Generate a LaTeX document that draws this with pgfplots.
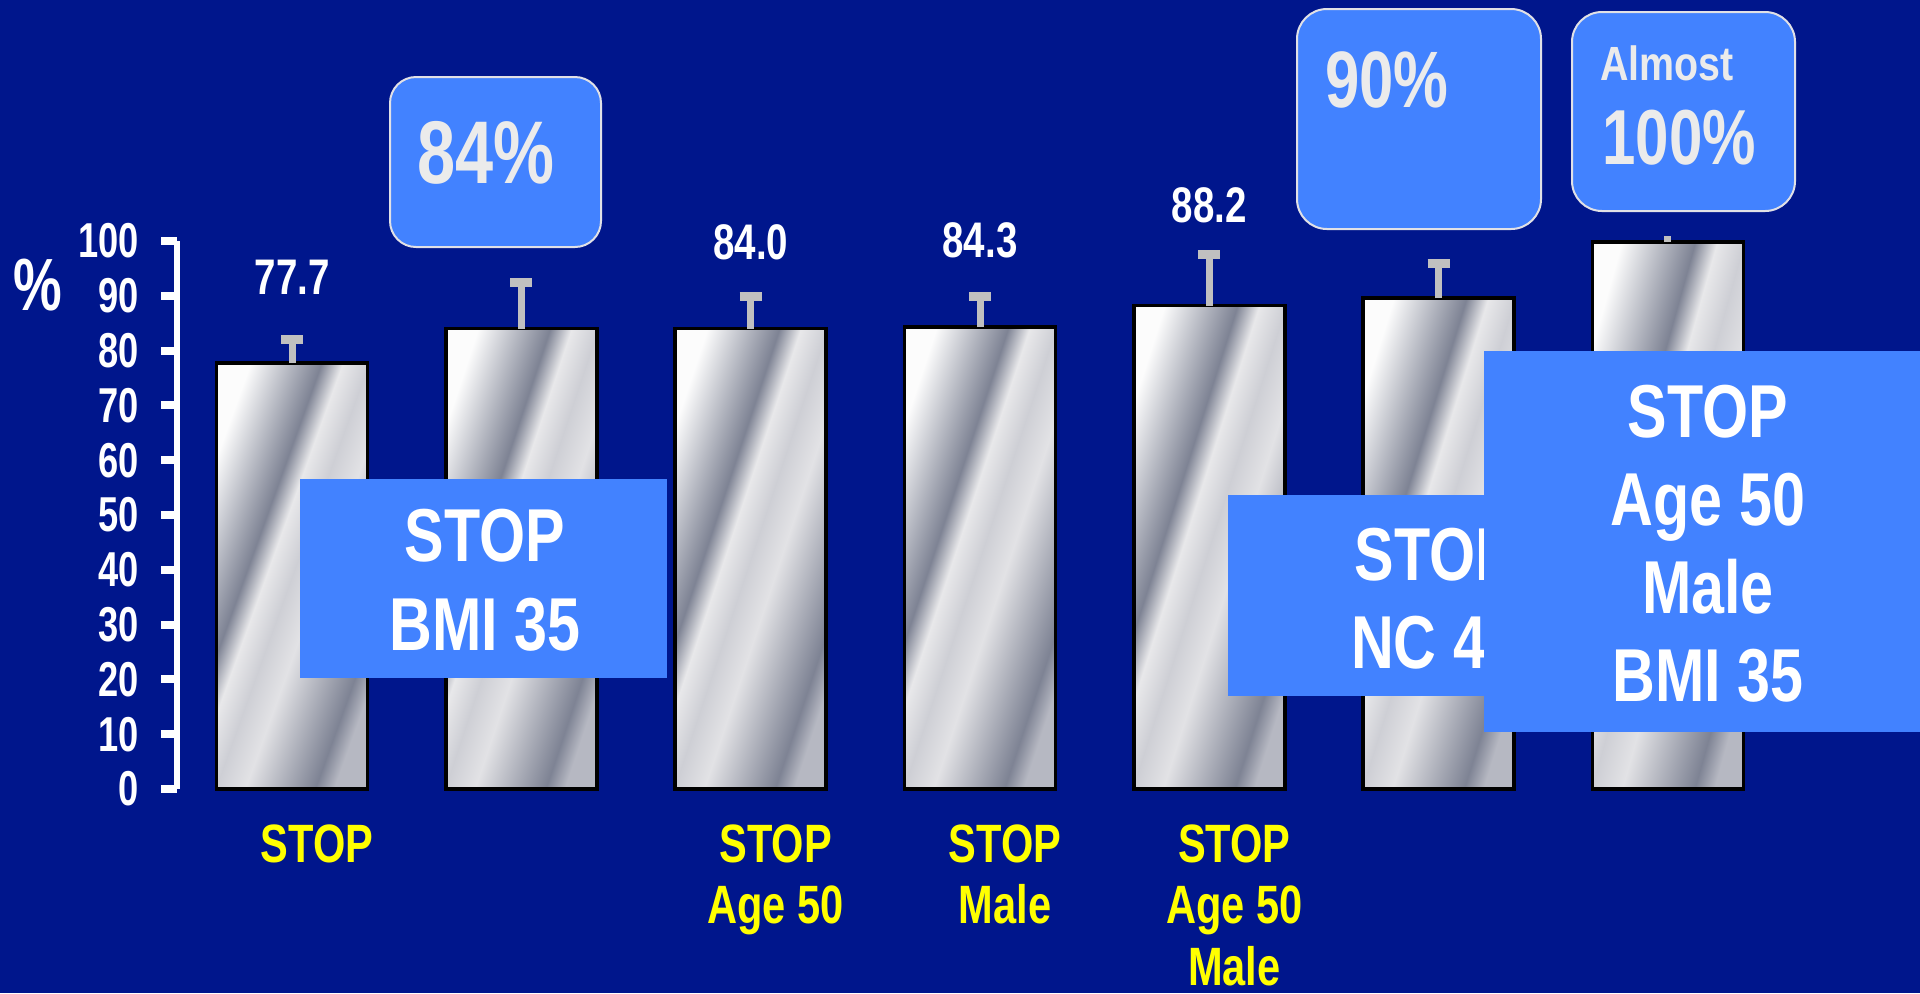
\documentclass[border=0pt]{standalone}
\usepackage{pgfplots}
\pgfplotsset{compat=1.18}
\usepackage{fontspec}
\setmainfont{Liberation Sans}
\newfontfamily\ticksf[FakeStretch=0.74]{Liberation Sans}
\newfontfamily\valsf[FakeStretch=0.77]{Liberation Sans}
\newfontfamily\boxsf[FakeStretch=0.79]{Liberation Sans}
\newfontfamily\almostsf[FakeStretch=0.82]{Liberation Sans}

\definecolor{navy}{RGB}{0,22,140}
\definecolor{boxblue}{RGB}{66,130,255}
\definecolor{boxtext}{RGB}{235,235,235}
\definecolor{boxedge}{RGB}{225,225,230}
\definecolor{errgray}{RGB}{192,192,192}
\definecolor{catyellow}{RGB}{255,255,0}
\definecolor{chromeW}{RGB}{252,252,252}
\definecolor{chromeD}{RGB}{126,131,148}
\definecolor{chromeL}{RGB}{232,232,234}
\definecolor{chromeM}{RGB}{206,207,213}
\definecolor{chromeLL}{RGB}{226,226,229}
\definecolor{chromeE}{RGB}{182,184,194}

% metallic bands; the bar spans 25bp (top left) to 75bp (bottom right)
\pgfdeclarehorizontalshading{chrome}{100bp}{%
  color(0bp)=(chromeW);
  color(25bp)=(chromeW);
  color(40bp)=(chromeD);
  color(44.5bp)=(chromeL);
  color(50bp)=(chromeM);
  color(56.25bp)=(chromeLL);
  color(71bp)=(chromeD);
  color(75bp)=(chromeE);
  color(100bp)=(chromeE)}

\pgfplotsset{
  chromebar/.style={
    ybar, bar width=75.5pt, bar shift=0pt,
    draw=black, line width=1.75pt,
    shade, shading=chrome, shading angle=#1,
    error bars/y dir=plus,
    error bars/y explicit,
    error bars/error bar style={line width=3.5pt, draw=errgray},
    error bars/error mark options={rotate=90, line width=4.5pt, draw=errgray, mark size=5.5pt},
  },
  valuelabel/.style={
    nodes near coords={\pgfmathprintnumber[fixed,fixed zerofill,precision=1]{\pgfplotspointmeta}},
    every node near coord/.append style={anchor=south, inner sep=0pt,
      yshift=#1, text=white, font=\valsf\bfseries\fontsize{25}{30}\selectfont},
  },
}

\begin{document}
\begin{tikzpicture}
\path[use as bounding box] (0pt,0pt) rectangle (960pt,-496.5pt);
\fill[navy] (0pt,0pt) rectangle (960pt,-496.5pt);

\begin{axis}[
  at={(88.75pt,-394.5pt)}, anchor=south west,
  scale only axis, width=802.5pt, height=274pt,
  xmin=-0.5, xmax=6.5, ymin=0, ymax=100,
  axis y line=left, axis x line=bottom,
  x axis line style={draw=none},
  y axis line style={-, line width=3pt, white},
  ytick={0,10,...,100},
  tick align=outside,
  major tick length=8pt,
  ytick style={line width=4pt, white},
  yticklabel style={text=white, inner sep=0pt,
    font=\ticksf\bfseries\fontsize{24.5}{28}\selectfont},
  yticklabel shift=11pt,
  xtick={0,2,3,4},
  xticklabels={STOP, {STOP\\Age 50}, {STOP\\Male}, {STOP\\Age 50\\Male}},
  xtick style={draw=none},
  xticklabel style={align=center, text=catyellow, inner sep=0pt,
    xshift=12.5pt, yshift=-9.5pt, font=\valsf\bfseries\fontsize{27}{30.8}\selectfont},
  every axis y label/.style={at={(axis description cs:0,1)}, anchor=center,
    xshift=-69.75pt, yshift=-22pt, text=white,
    font=\ticksf\bfseries\fontsize{37}{40}\selectfont},
  ylabel={\%},
  /pgf/number format/assume math mode=true,
  clip=false,
]
\addplot[chromebar=-19.8, valuelabel=33.5pt] coordinates {(0,77.7) +- (0,4.3)};
\addplot[chromebar=-18.4] coordinates {(1,84.0) +- (0,8.4)};
\addplot[chromebar=-18.4, valuelabel=33.4pt] coordinates {(2,84.0) +- (0,5.8)};
\addplot[chromebar=-18.3, valuelabel=33.5pt] coordinates {(3,84.3) +- (0,5.5)};
\addplot[chromebar=-17.6, valuelabel=40.4pt] coordinates {(4,88.2) +- (0,9.3)};
\addplot[chromebar=-17.3] coordinates {(5,89.6) +- (0,6.3)};
\addplot[chromebar=-15.6, error bars/error mark=none] coordinates {(6,99.8) +- (0,1.1)};
\end{axis}

\begin{scope}[x=0.5pt, y=-0.5pt]
  % rounded call-outs above the bars
  \filldraw[fill=boxblue, draw=boxedge, line width=1pt, rounded corners=13pt]
    (390,77) rectangle (601,247);
  \node[anchor=base west, inner sep=0pt, text=boxtext,
    font=\valsf\bfseries\fontsize{44.5}{50}\selectfont] at (417,183) {84\%};

  \filldraw[fill=boxblue, draw=boxedge, line width=1pt, rounded corners=15pt]
    (1297,9) rectangle (1541,229);
  \node[anchor=base west, inner sep=0pt, text=boxtext,
    font=\valsf\bfseries\fontsize{40}{46}\selectfont] at (1325,107) {90\%};

  \filldraw[fill=boxblue, draw=boxedge, line width=1pt, rounded corners=15pt]
    (1572,12) rectangle (1795,211);
  \node[anchor=base west, inner sep=0pt, text=boxtext,
    font=\almostsf\bfseries\fontsize{24}{28}\selectfont] at (1600,80) {Almost};
  \node[anchor=base west, inner sep=0pt, text=boxtext,
    font=\valsf\bfseries\fontsize{39}{44}\selectfont] at (1602,164) {100\%};

  % rule panels
  \fill[boxblue] (300,479) rectangle (667,678);
  \begin{scope}[every node/.style={anchor=base, inner sep=0pt, text=white,
      font=\boxsf\bfseries\fontsize{37.5}{44}\selectfont}]
    \node at (485,561) {STOP};
    \node at (485,650) {BMI 35};
  \end{scope}

  \fill[boxblue] (1228,495) rectangle (1642,696);
  \begin{scope}[every node/.style={anchor=base, inner sep=0pt, text=white,
      font=\boxsf\bfseries\fontsize{37.5}{44}\selectfont}]
    \node at (1435,580) {STOP};
    \node at (1435,668) {NC 40};
  \end{scope}

  \fill[boxblue] (1484,351) rectangle (1920,732);
  \begin{scope}[every node/.style={anchor=base, inner sep=0pt, text=white,
      font=\boxsf\bfseries\fontsize{37.5}{44}\selectfont}]
    \node at (1708,437) {STOP};
    \node at (1708,525) {Age 50};
    \node at (1708,613) {Male};
    \node at (1708,701) {BMI 35};
  \end{scope}
\end{scope}
\end{tikzpicture}
\end{document}
